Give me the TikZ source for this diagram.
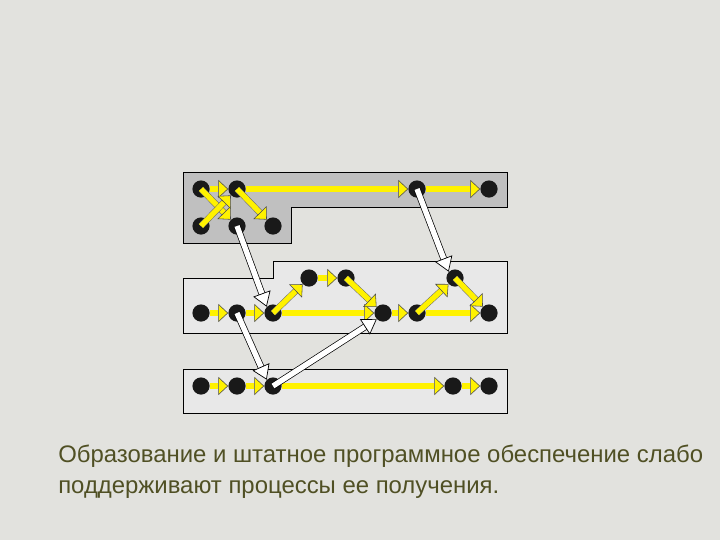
\documentclass[tikz,border=0pt]{standalone}
\usepackage{fontspec}
\setmainfont{Liberation Sans}
\usepackage{tikz}
\usetikzlibrary{arrows.meta}
\definecolor{bggray}{RGB}{226,226,222}
\definecolor{darkpanel}{RGB}{192,192,192}
\definecolor{lightpanel}{RGB}{232,232,232}
\definecolor{textolive}{RGB}{80,80,36}
\begin{document}
\begin{tikzpicture}[x=0.025cm,y=-0.025cm,
  dot/.style={circle,fill=black!90,minimum size=0.43cm,inner sep=0pt},
  flow/.style={draw=black!60,double=yellow,double distance=3.8pt,line width=0.35pt,
    -{Triangle[length=7pt,width=13pt,fill=yellow,color=black!70,line width=0.4pt]}},
  jump/.style={draw=black,double=white,double distance=3.8pt,line width=0.5pt,
    -{Triangle[length=10pt,width=13pt,fill=white,color=black,line width=0.5pt]}}]
\useasboundingbox[fill=bggray] (0,0) rectangle (720,540);
% panels
\draw[fill=darkpanel] (183,172) -- (507,172) -- (507,207) -- (291,207) -- (291,243) -- (183,243) -- cycle;
\draw[fill=lightpanel] (183,278) -- (273,278) -- (273,261) -- (507,261) -- (507,333) -- (183,333) -- cycle;
\draw[fill=lightpanel] (183,369) rectangle (507,413);
% first panel
\node[dot] (a1) at (201,189) {};
\node[dot] (a2) at (237,189) {};
\node[dot] (a3) at (417,189) {};
\node[dot] (a4) at (489,189) {};
\node[dot] (a5) at (201,226) {};
\node[dot] (a6) at (237,226) {};
\node[dot] (a7) at (273,226) {};
% second panel
\node[dot] (b1) at (201,313) {};
\node[dot] (b2) at (237,313) {};
\node[dot] (b3) at (273,313) {};
\node[dot] (b4) at (309,278) {};
\node[dot] (b5) at (346,278) {};
\node[dot] (b6) at (383,313) {};
\node[dot] (b7) at (417,313) {};
\node[dot] (b8) at (455,278) {};
\node[dot] (b9) at (489,313) {};
% third panel
\node[dot] (c1) at (201,386) {};
\node[dot] (c2) at (237,386) {};
\node[dot] (c3) at (273,386) {};
\node[dot] (c4) at (453,386) {};
\node[dot] (c5) at (489,386) {};
% yellow arrows
\draw[flow] (a1) -- (a2);
\draw[flow] (a2) -- (a3);
\draw[flow] (a3) -- (a4);
\draw[flow] (a1.center) -- (a6);
\draw[flow] (a5.center) -- (a2);
\draw[flow] (a2.center) -- (a7);
\draw[flow] (b1) -- (b2);
\draw[flow] (b2) -- (b3);
\draw[flow] (b3) -- (b6);
\draw[flow] (b3.center) -- (b4);
\draw[flow] (b4) -- (b5);
\draw[flow] (b5.center) -- (b6);
\draw[flow] (b6) -- (b7);
\draw[flow] (b7) -- (b9);
\draw[flow] (b7.center) -- (b8);
\draw[flow] (b8.center) -- (b9);
\draw[flow] (c1) -- (c2);
\draw[flow] (c2) -- (c3);
\draw[flow] (c3) -- (c4);
\draw[flow] (c4) -- (c5);
% white arrows
\draw[jump] (a6.center) -- (b3.north west);
\draw[jump] (a3.center) -- (b8.north west);
\draw[jump] (b2.center) -- (c3.north west);
\draw[jump] (c3.center) -- (b6.south west);
% caption
\node[anchor=north west,align=left,text=textolive,font=\fontsize{17}{21.5}\selectfont,inner sep=0pt] (caption) at (58,445)
  {Образование и штатное программное обеспечение слабо\\поддерживают процессы ее получения.};
\end{tikzpicture}
\end{document}
